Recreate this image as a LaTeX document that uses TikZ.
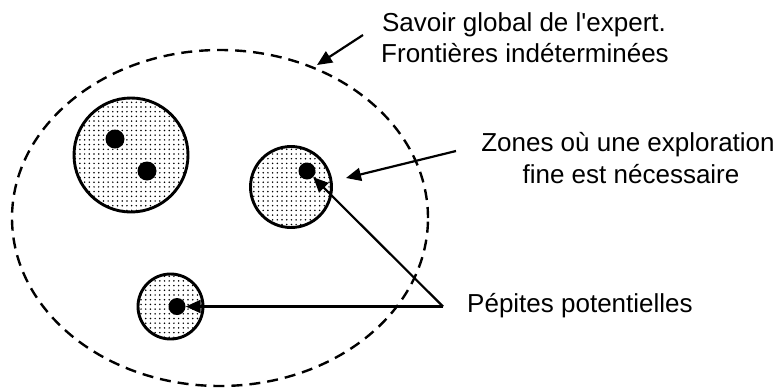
\documentclass[tikz,border=0pt]{standalone}
\usepackage{fontspec}
\setmainfont{Liberation Sans}
\usetikzlibrary{shapes.geometric,arrows.meta,patterns.meta}
\tikzset{
  zone/.style={circle, draw, line width=2.9pt, inner sep=0pt, pattern={Dots[distance=4.7pt,radius=0.85pt]}},
  pepite/.style={circle, fill=black, inner sep=0pt},
  lbl/.style={inner sep=0pt, font=\fontsize{26}{31}\selectfont},
  arr/.style={line width=2.2pt, -{Triangle[length=15pt,width=13pt]}},
  frontier/.style={ellipse, draw, line width=2.4pt, dash pattern=on 11pt off 7pt, inner sep=0pt}
}
\begin{document}
\begin{tikzpicture}[x=1pt,y=-1pt]
\useasboundingbox (0,0) rectangle (780,389);
% global knowledge
\node[frontier, minimum width=416pt, minimum height=336pt] (savoir) at (220,218) {};
% zones
\node[zone, minimum size=114pt] (c1) at (131,155) {};
\node[zone, minimum size=81pt] (c2) at (291,187) {};
\node[zone, minimum size=65pt] (c3) at (170.5,306.5) {};
% nuggets
\node[pepite, minimum size=19pt] (d1) at (115,139) {};
\node[pepite, minimum size=19pt] (d2) at (147,171) {};
\node[pepite, minimum size=17pt] (d3) at (307,171) {};
\node[pepite, minimum size=17pt] (d4) at (177,306.5) {};
% labels
\node[lbl, anchor=base] (s1) at (524,31) {Savoir global de l\textquotesingle expert.};
\node[lbl, anchor=base] (s2) at (525,62) {Frontières indéterminées};
\node[lbl, anchor=base] (z1) at (628,151) {Zones où une exploration};
\node[lbl, anchor=base] (z2) at (631,183) {fine est nécessaire};
\node[lbl, anchor=base west] (p1) at (467,312) {Pépites potentielles};
% arrow ends
\coordinate (st) at (363,35);
\coordinate (sh) at (317,65);
\coordinate (zt) at (456,151);
\coordinate (zh) at (346,178);
\coordinate (pv) at (443,306.5);
% connectors
\draw[arr] (st) -- (sh);
\draw[arr] (zt) -- (zh);
\draw[arr] (pv) -- (d4.east);
\draw[arr] (pv) -- (d3);
\end{tikzpicture}
\end{document}
